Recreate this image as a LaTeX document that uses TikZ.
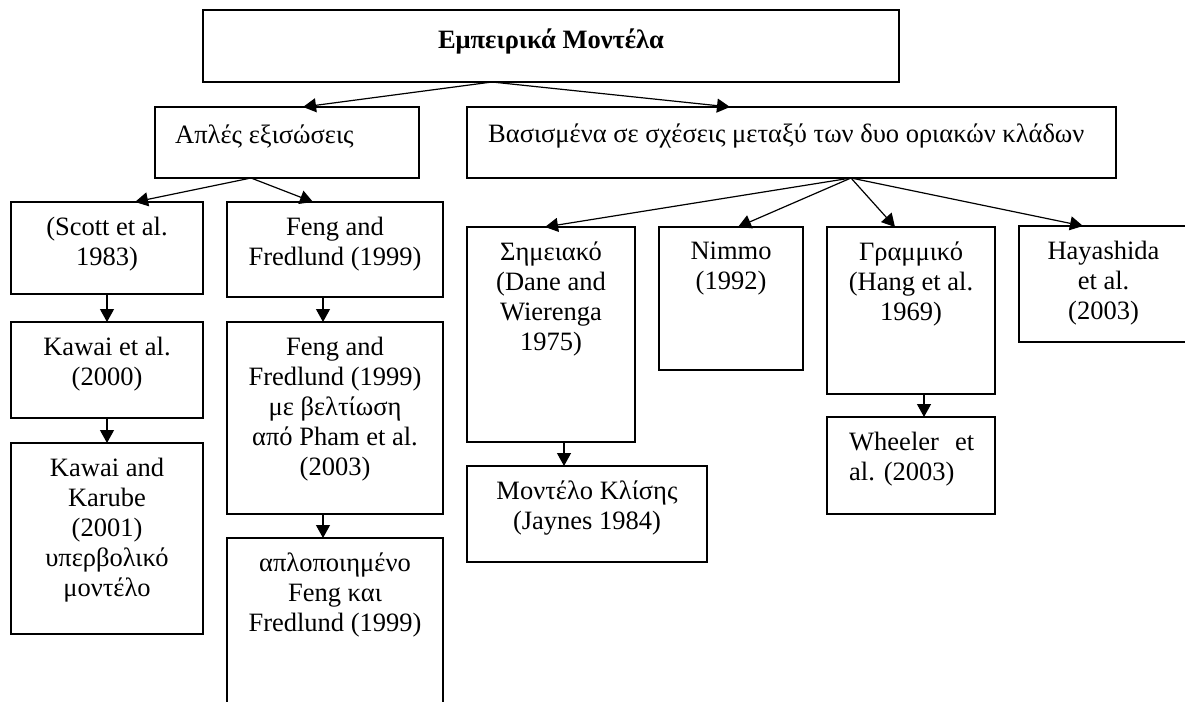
\documentclass[tikz,border=0pt]{standalone}
\usepackage{fontspec}
\setmainfont{Liberation Serif}
\usetikzlibrary{positioning,arrows.meta}

\tikzset{
  box/.style={draw, line width=1.3pt, inner sep=0pt, outer sep=0pt, anchor=north west},
  txt/.style={inner sep=0pt, align=center, anchor=north,
    font=\fontsize{26.5}{30}\selectfont, execute at begin node=\strut},
  arr/.style={-{Triangle[length=13pt,width=14pt]}, line width=1.2pt}
}

\begin{document}
\begin{tikzpicture}[x=1pt, y=-1pt]
    \useasboundingbox (0,0) rectangle (1185,701);
    \clip (0,0) rectangle (1185,701);

    % Top level
    \node[box, minimum width=696pt, minimum height=72pt] (title) at (203,10) {};
    \node[txt, font=\fontsize{26.5}{30}\selectfont\bfseries, below=17pt of title.north] (title-t) {Εμπειρικά Μοντέλα};

    % Two branches
    \node[box, minimum width=264pt, minimum height=71pt] (simple) at (155,107) {};
    \node[txt, anchor=north west] (simple-t) at ([xshift=20pt,yshift=-15pt]simple.north west) {Απλές εξισώσεις};
    \node[box, minimum width=649pt, minimum height=71pt] (based) at (467,107) {};
    \node[txt, anchor=north west] (based-t) at ([xshift=21pt,yshift=-14pt]based.north west) {Βασισμένα σε σχέσεις μεταξύ των δυο οριακών κλάδων};

    % Model boxes
    \foreach \n/\x/\y/\w/\h/\lbl in {
      scott/11/202/192/92/{(Scott et al.\\1983)},
      feng/227/202/216/95/{Feng and\\Fredlund (1999)},
      kawai/11/322/192/96/{Kawai et al.\\(2000)},
      kawaib/11/443/192/191/{Kawai and\\Karube\\(2001)\\υπερβολικό\\μοντέλο},
      fengb/227/322/216/192/{Feng and\\Fredlund (1999)\\με βελτίωση\\από Pham et al.\\(2003)},
      fengc/227/538/216/185/{απλοποιημένο\\Feng και\\Fredlund (1999)},
      point/467/227/168/215/{Σημειακό\\(Dane and\\Wierenga\\1975)},
      slope/467/466/240/96/{Μοντέλο Κλίσης\\(Jaynes 1984)},
      nimmo/659/227/144/143/{Nimmo\\(1992)},
      linear/827/227/168/167/{Γραμμικό\\(Hang et al.\\1969)},
      haya/1019/226/169/116/{Hayashida\\et al.\\(2003)}} {
      \node[box, minimum width=\w pt, minimum height=\h pt] (\n) at (\x,\y) {};
      \node[txt, below=15pt of \n.north] (\n-t) {\lbl};
    }

    \node[box, minimum width=168pt, minimum height=97pt] (wheeler) at (827,417) {};
    \node[txt, align=left, anchor=north west] (wheeler-t) at ([xshift=22pt,yshift=-15pt]wheeler.north west) {\hbox to 125pt{Wheeler\hfil et}\\al. (2003)};

    % Arrows
    \draw[arr] ([xshift=-59pt]title.south) -- ([xshift=16pt]simple.north);
    \draw[arr] ([xshift=-59pt]title.south) -- ([xshift=-61.5pt]based.north);
    \draw[arr] ([xshift=-36pt]simple.south) -- ([xshift=28pt]scott.north);
    \draw[arr] ([xshift=-36pt]simple.south) -- ([xshift=-22pt]feng.north);
    \draw[arr] (scott.south) -- (kawai.north);
    \draw[arr] (kawai.south) -- (kawaib.north);
    \draw[arr] ([xshift=-12pt]feng.south) -- ([xshift=-12pt]fengb.north);
    \draw[arr] ([xshift=-12pt]fengb.south) -- ([xshift=-12pt]fengc.north);
    \foreach \c/\s in {point/-6, nimmo/7, linear/-16, haya/-20.5}
      \draw[arr] ([xshift=59.5pt]based.south) -- ([xshift=\s pt]\c.north);
    \draw[arr] ([xshift=13pt]point.south) -- ([xshift=-23pt]slope.north);
    \draw[arr] ([xshift=13pt]linear.south) -- ([xshift=13pt]wheeler.north);

\end{tikzpicture}
\end{document}
